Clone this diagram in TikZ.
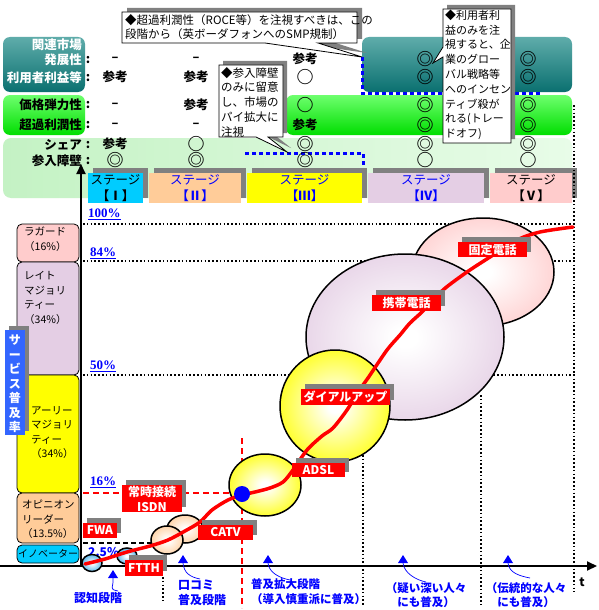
\documentclass[tikz,border=0pt]{standalone}
\usepackage{fontspec}
\setmainfont{Noto Sans CJK JP}
\newfontfamily\tms{Liberation Serif}
\usetikzlibrary{arrows.meta,calc}
\definecolor{tealA}{RGB}{95,172,170}
\definecolor{tealB}{RGB}{10,112,112}
\definecolor{grnA}{RGB}{110,255,110}
\definecolor{grnB}{RGB}{0,222,0}
\definecolor{lgA}{RGB}{196,242,196}
\definecolor{lgB}{RGB}{232,252,232}
\definecolor{cyanS}{RGB}{0,204,255}
\definecolor{peachS}{RGB}{255,204,153}
\definecolor{yelS}{RGB}{255,255,0}
\definecolor{purS}{RGB}{228,206,228}
\definecolor{pinkS}{RGB}{255,204,204}
\definecolor{shd}{RGB}{128,128,128}
\definecolor{vblue}{RGB}{51,102,255}
\definecolor{ftthc}{RGB}{60,170,230}
\colorlet{bubcol}{pinkS}
\pgfdeclareradialshading[bubcol]{bubsh}{\pgfpoint{0bp}{0bp}}{color(0bp)=(white); color(3bp)=(white); color(30bp)=(bubcol); color(50bp)=(bubcol)}
\newcommand\fLab{\bfseries\fontsize{12.5}{14}\selectfont}
\newcommand\fMk{\bfseries\fontsize{12.5}{14}\selectfont}
\newcommand\fSym{\bfseries\fontsize{17}{17}\selectfont}
\newcommand\fCall{\fontsize{11.5}{14.8}\selectfont}
\newcommand\fStage{\fontsize{12.5}{16}\selectfont}
\newcommand\fCat{\fontsize{10.5}{14.6}\selectfont}
\newcommand\fRed{\bfseries\fontsize{12}{15}\selectfont}
\newcommand\fBlue{\bfseries\fontsize{12}{15}\selectfont}
\newcommand\fPct{\tms\bfseries\fontsize{13}{13}\selectfont}
\newcommand\sy[1]{{\fSym #1}}
\newcommand\rlab[6]{%
  \fill[shd] ({#2+4},{#3-5}) rectangle ({#4+4},{#5-5});
  \node[redbox, minimum width={(#4-#2)*1pt}, minimum height={(#5-#3)*1pt}] (#1) at ({(#2+#4)/2},{(#3+#5)/2}) {#6};}
\newcommand\stg[6]{%
  \fill[shd] ({#2+5},168) rectangle ({#3+5},198);
  \fill[#4] (#2,173) rectangle (#3,203);
  \node[stagetxt, text=#5] (#1) at ({(#2+#3)/2},188) {ステージ\\{\bfseries【#6】}};}
\newcommand\bubble[5]{% colour, cx, cy, rx, ry
  \colorlet{bubcol}{#1}%
  \draw[black, line width=1.5pt, shade, shading=bubsh] (#2,#3) ellipse [x radius=#4, y radius=#5];}
\begin{document}
\begin{tikzpicture}[x=1pt,y=-1pt,
  lab/.style={font=\fLab, anchor=east, inner sep=0pt},
  mk/.style={font=\fMk, inner sep=0pt},
  callbox/.style={fill=white, draw=black, line width=0.8pt},
  calltext/.style={font=\fCall, align=left, inner sep=0pt, anchor=north west},
  stagetxt/.style={font=\fStage, align=center, inner sep=0pt},
  pct/.style={font=\fPct, text=blue, inner sep=0pt, anchor=west},
  catbox/.style={draw=black, line width=0.8pt, rounded corners=5pt},
  cattext/.style={font=\fCat, align=left, anchor=north west, inner sep=0pt},
  redbox/.style={fill=red, text=white, font=\fRed, inner sep=0pt, align=center},
  dotl/.style={line width=1.6pt, dash pattern=on 1.6pt off 2.2pt},
  reddash/.style={red, line width=2pt, dash pattern=on 6pt off 4pt},
  hatch/.style={blue, line width=3pt, dash pattern=on 4pt off 3pt},
  blab/.style={font=\fBlue, text=blue, inner sep=0pt},
  barrow/.style={blue, line width=0.7pt}]
\useasboundingbox (0,0) rectangle (598,610);
\fill[white] (0,0) rectangle (598,610);

% ---------- top bands ----------
\shade[top color=tealA, bottom color=tealB, rounded corners=7pt] (3,37) rectangle (85,92);
\shade[top color=tealA, bottom color=tealB, rounded corners=7pt] (362,37) rectangle (572,92);
\shade[top color=grnA, bottom color=grnB, rounded corners=7pt] (3,95) rectangle (85,135);
\shade[top color=grnA, bottom color=grnB, rounded corners=7pt] (286,95) rectangle (572,135);
\shade[left color=lgA, right color=lgB, rounded corners=8pt] (3,138) rectangle (572,198);

\draw[hatch] (362,57) -- (362,93) -- (540,93);
\draw[hatch] (245,153) -- (363,153) -- (363,166);

\node[lab, text=white] (l1) at (82,45) {関連市場};
\node[lab, text=white] (l2) at (82,60) {発展性};
\node[lab, text=white] (l3) at (82,78) {利用者利益等};
\node[lab] (l4) at (82,105) {価格弾力性};
\node[lab] (l5) at (82,125) {超過利潤性};
\node[lab] (l6) at (82,145) {シェア};
\node[lab] (l7) at (82,161) {参入障壁};
\foreach \yy/\n in {60/a,78/b,105/c,125/d,145/e,161/f}
  \node[mk] (col\n) at (88,\yy) {:};

\foreach \yy/\a/\b/\c/\d/\e [count=\i] in {
  59/–/–/参考/\sy{◎}/\sy{◎},
  77/参考/参考/\sy{○}/\sy{◎}/\sy{◎},
  105/–/参考/\sy{○}/\sy{◎}/\sy{◎},
  125/–/–/参考/\sy{◎}/\sy{◎},
  144/参考/\sy{○}/\sy{◎}/\sy{◎}/\sy{◎},
  160/\sy{◎}/\sy{◎}/\sy{◎}/\sy{○}/\sy{○}}
{
  \node[mk] (m\i a) at (115,\yy) {\a};
  \node[mk] (m\i b) at (196,\yy) {\b};
  \node[mk] (m\i c) at (305,\yy) {\c};
  \node[mk] (m\i d) at (425,\yy) {\d};
  \node[mk] (m\i e) at (528,\yy) {\e};
}

% ---------- callouts ----------
\fill[shd, shift={(5,-4)}] (122,12) -- (357,12) -- (357,43) -- (318,43) -- (362,57) -- (265,43) -- (122,43) -- cycle;
\draw[callbox] (122,12) -- (357,12) -- (357,43) -- (318,43) -- (362,57) -- (265,43) -- (122,43) -- cycle;
\node[calltext] (c1) at (125,14) {◆超過利潤性（ROCE等）を注視すべきは、この\\段階から（英ボーダフォンへのSMP規制）};

\fill[shd, shift={(4,-4)}] (219,65) -- (283,65) -- (283,137) -- (268,137) -- (287,152) -- (256,137) -- (219,137) -- cycle;
\draw[callbox] (219,65) -- (283,65) -- (283,137) -- (268,137) -- (287,152) -- (256,137) -- (219,137) -- cycle;
\node[calltext] (c2) at (221,67) {◆参入障壁\\のみに留意\\し、市場の\\パイ拡大に\\注視};

\fill[shd, shift={(4,-4)}] (443,9) -- (511,9) -- (511,143) -- (443,143) -- (443,57) -- (433,63) -- (443,47) -- cycle;
\draw[callbox] (443,9) -- (511,9) -- (511,143) -- (443,143) -- (443,57) -- (433,63) -- (443,47) -- cycle;
\node[calltext, font=\fontsize{11}{14.8}\selectfont] (c3) at (445,9.5) {◆利用者利\\益のみを注\\視すると、企\\業のグロー\\バル戦略等\\へのインセン\\ティブ殺が\\れる(トレー\\ドオフ)};

% ---------- stages ----------
\stg{s1}{88}{143}{cyanS}{black}{Ⅰ}
\stg{s2}{149}{241}{peachS}{blue}{Ⅱ}
\stg{s3}{247}{362}{yelS}{blue}{Ⅲ}
\stg{s4}{368}{484}{purS}{blue}{Ⅳ}
\stg{s5}{490}{572}{pinkS}{black}{Ⅴ}

% ---------- grid lines ----------
\draw[dotl] (83,224) -- (575,224);
\draw[dotl] (83,261) -- (575,261);
\draw[dotl] (83,375) -- (575,375);
\draw[dotl] (574,105) -- (574,592);
\draw[dotl] (363,455) -- (363,605);
\draw[dotl] (481,395) -- (481,605);
\draw[dotl] (163,577) -- (163,600);
\draw[black, line width=1.5pt, dash pattern=on 5pt off 3pt] (83,543) -- (160,543);
\draw[reddash] (83,493) -- (241,493);
\draw[reddash] (242,438) -- (242,608);

\node[pct] (p100) at (88,214) {\underline{100\%}};
\node[pct] (p84) at (90,253) {\underline{84\%}};
\node[pct] (p50) at (90,366) {\underline{50\%}};
\node[pct] (p16) at (90,482) {\underline{16\%}};
\node[blab, anchor=west] (p25) at (88,552) {2.5\%};

% ---------- categories ----------
\draw[catbox, fill=pinkS] (17,224) rectangle (79,262);
\draw[catbox, fill=purS] (17,262) rectangle (79,375);
\draw[catbox, fill=yelS] (17,375) rectangle (79,493);
\draw[catbox, fill=peachS] (17,493) rectangle (79,543);
\draw[catbox, fill=cyanS] (17,545) rectangle (79,563);
\node[cattext] (k1) at (24,227) {ラガード\\（16\%）};
\node[cattext] (k2) at (24,271) {レイト\\マジョリ\\ティー\\（34\%）};
\node[cattext] (k3) at (31,406) {アーリー\\マジョリ\\ティー\\（34\%）};
\node[cattext] (k4) at (22,500) {オピニオン\\リーダー\\（13.5\%）};
\node[inner sep=0pt, font=\fontsize{10}{12}\selectfont] (k5) at (48,554) {イノベーター};

% ---------- axes ----------
\coordinate (o) at (81,566);
\coordinate (ytop) at (81,164);
\coordinate (xend) at (597,566);
\draw[line width=2pt, -{Triangle[length=10pt,width=9pt]}] (0,566) -- (xend);
\draw[line width=2pt, -{Triangle[length=10pt,width=9pt]}] (o) -- (ytop);
\node[font=\bfseries\fontsize{12}{12}\selectfont, inner sep=0pt] (t) at (582,582) {t};

% ---------- bubbles ----------
\bubble{pinkS}{483}{272}{71}{54}
\bubble{purS}{405}{337}{99}{83}
\bubble{yelS}{265}{485}{36}{31}
\bubble{yelS}{335}{406}{55}{56}
\bubble{peachS}{185}{529}{18}{14}
\bubble{peachS}{167}{540}{16}{14}
\bubble{ftthc}{92}{563}{10}{8.5}
\bubble{ftthc}{127}{556}{10}{8}

% ---------- diffusion curve ----------
\draw[red, line width=3.5pt, line cap=round, line join=round] plot[smooth, tension=0.5] coordinates {
 (85,564) (105,559) (127,552) (150,546) (168,540) (185,531) (200,522) (212,510) (228,500) (242,495)
 (255,492) (270,488) (283,482) (293,470) (307,450) (322,436) (333,428) (347,410) (358,392) (368,378)
 (387,350) (400,335) (410,323) (423,311) (443,290) (467,272) (490,257) (517,240) (540,232) (573,227)};
\fill[blue] (242,494) circle [radius=8];

% ---------- red labels ----------
\rlab{fixed}{458}{242}{527}{257}{固定電話}
\rlab{mobile}{372}{295}{441}{311}{携帯電話}
\rlab{dial}{301}{389}{390}{405}{ダイアルアップ}
\rlab{adsl}{292}{463}{345}{477}{ADSL}
\rlab{isdn}{122}{485}{182}{512}{常時接続\\ISDN}
\rlab{fwa}{83}{523}{117}{538}{FWA}
\rlab{ftth}{125}{560}{163}{576}{FTTH}
\rlab{catv}{198}{525}{253}{540}{CATV}

% ---------- vertical axis label ----------
\fill[shd] (9,326) rectangle (29,431);
\fill[vblue] (5,330) rectangle (25,435);
\node[font=\bfseries\fontsize{12}{14.5}\selectfont, text=white, align=center, inner sep=0pt] (vl) at (15,384) {サ\\ー\\ビ\\ス\\普\\及\\率};

% ---------- bottom stage labels ----------
\node[blab] (b1) at (98,598) {認知段階};
\node[blab, anchor=north west, align=left] (b2) at (178,580) {口コミ\\普及段階};
\node[blab, anchor=north west, align=left, font=\bfseries\fontsize{11.5}{15}\selectfont] (b3) at (251,578) {普及拡大段階\\（導入慎重派に普及）};
\node[blab, align=center, font=\bfseries\fontsize{11.5}{14.5}\selectfont] (b4) at (426,595) {（疑い深い人々\\にも普及）};
\node[blab, align=center, font=\bfseries\fontsize{11.5}{14.5}\selectfont] (b5) at (526,595) {（伝統的な人々\\にも普及）};

\foreach \tx/\ty/\ex/\ey/\n in {113/570/118/591/a, 183/555/200/579/b, 268/555/290/580/c, 403/555/426/582/d, 508/555/530/578/e}{
  \coordinate (tip\n) at (\tx,\ty);
  \coordinate (end\n) at (\ex,\ey);
  \fill[blue] (tip\n) -- ++(5,8) -- ++(-10,0) -- cycle;
  \draw[barrow] ($(tip\n)+(0,8)$) .. controls +(1,10) and +(-10,-2) .. (end\n);
}
\end{tikzpicture}
\end{document}
